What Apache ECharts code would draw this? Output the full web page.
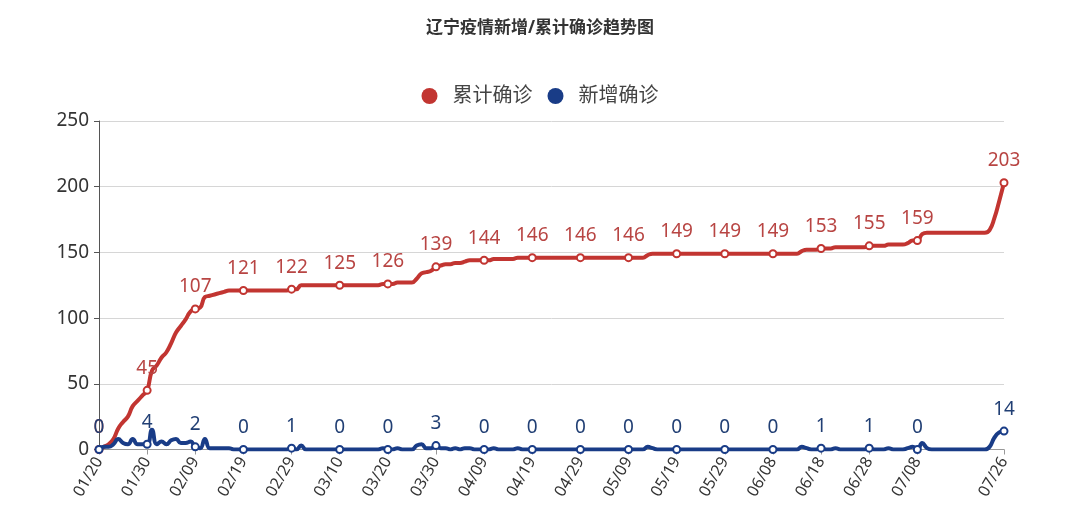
<!DOCTYPE html>
<html>
<head>
<meta charset="utf-8">
<script src="https://cdn.jsdelivr.net/npm/echarts@6/dist/echarts.min.js"></script>
<style>
html,body{margin:0;padding:0;background:#fff;}
#chart{width:1080px;height:527px;}
</style>
</head>
<body>
<div id="chart"></div>
<script>
// Daily categories 01/20 .. 07/26 (2020)
var startDate = '2020-01-20';
var endDate = '2020-07-26';
var yTicks = [0, 50, 100, 150, 200, 250];
var seriesNames = ['累计确诊', '新增确诊'];

// 累计确诊 (cumulative), one value per day
var cumulative = [
  0,2,4,8,16,21,25,33,37,41,
  45,60,64,70,74,81,89,94,99,105,
  107,108,116,117,118,119,120,121,121,121,
  121,121,121,121,121,121,121,121,121,121,
  122,122,125,125,125,125,125,125,125,125,
  125,125,125,125,125,125,125,125,125,126,
  126,126,127,127,127,127,130,134,135,136,
  139,140,141,141,142,142,143,144,144,144,
  144,144,145,145,145,145,145,146,146,146,
  146,146,146,146,146,146,146,146,146,146,
  146,146,146,146,146,146,146,146,146,146,
  146,146,146,146,148,149,149,149,149,149,
  149,149,149,149,149,149,149,149,149,149,
  149,149,149,149,149,149,149,149,149,149,
  149,149,149,149,149,149,151,152,152,152,
  153,153,153,154,154,154,154,154,154,154,
  155,155,155,155,156,156,156,156,157,159,
  159,164,165,165,165,165,165,165,165,165,
  165,165,165,165,165,167,176,189,203
];

// 新增确诊 (daily new), one value per day
var newCases = [
  0,2,2,4,8,5,4,8,4,4,
  4,15,4,6,4,7,8,5,5,6,
  2,1,8,1,1,1,1,1,0,0,
  0,0,0,0,0,0,0,0,0,0,
  1,0,3,0,0,0,0,0,0,0,
  0,0,0,0,0,0,0,0,0,1,
  0,0,1,0,0,0,3,4,1,1,
  3,1,1,0,1,0,1,1,0,0,
  0,0,1,0,0,0,0,1,0,0,
  0,0,0,0,0,0,0,0,0,0,
  0,0,0,0,0,0,0,0,0,0,
  0,0,0,0,2,1,0,0,0,0,
  0,0,0,0,0,0,0,0,0,0,
  0,0,0,0,0,0,0,0,0,0,
  0,0,0,0,0,0,2,1,0,0,
  1,0,0,1,0,0,0,0,0,0,
  1,0,0,0,1,0,0,0,1,2,
  0,5,1,0,0,0,0,0,0,0,
  0,0,0,0,0,2,9,13,14
];

function buildDates(s, e) {
  var out = [];
  var d = new Date(s + 'T00:00:00Z');
  var end = new Date(e + 'T00:00:00Z');
  while (d <= end) {
    var m = d.getUTCMonth() + 1, day = d.getUTCDate();
    out.push((m < 10 ? '0' : '') + m + '/' + (day < 10 ? '0' : '') + day);
    d.setUTCDate(d.getUTCDate() + 1);
  }
  return out;
}
var dates = buildDates(startDate, endDate);
var lastIdx = dates.length - 1;
function isMarked(i) {
  return (i % 10 === 0 && i <= lastIdx - 18) || i === lastIdx;
}

var RED = '#c23531';
var BLUE = '#193c87';
var FONT = "'Noto Sans', 'Noto Sans CJK SC', sans-serif";

function buildSeriesData(arr) {
  return arr.map(function (v, i) {
    if (isMarked(i)) {
      return { value: v, symbol: 'emptyCircle', symbolSize: 7, label: { show: true } };
    }
    return { value: v, symbol: 'none' };
  });
}

var chart = echarts.init(document.getElementById('chart'));
chart.setOption({
  backgroundColor: '#fff',
  animation: false,
  title: {
    text: '辽宁疫情新增/累计确诊趋势图',
    left: 'center',
    top: 15,
    textStyle: { fontSize: 17, fontWeight: 'bold', color: '#333', fontFamily: FONT }
  },
  legend: {
    data: seriesNames,
    top: 81,
    left: 'center',
    icon: 'circle',
    itemWidth: 16,
    itemHeight: 16,
    itemGap: 15,
    textStyle: { fontSize: 20, color: '#444', fontFamily: FONT, padding: [0, 0, 0, 10] }
  },
  grid: { left: 99, right: 76, top: 121, bottom: 77.5, containLabel: false },
  xAxis: {
    type: 'category',
    data: dates,
    boundaryGap: false,
    axisLine: { lineStyle: { color: '#999', width: 1 } },
    axisTick: { show: true, interval: function (i) { return isMarked(i); }, length: 5, lineStyle: { color: '#999' } },
    axisLabel: {
      interval: function (i) { return isMarked(i); },
      rotate: 60,
      fontSize: 16,
      color: '#333',
      margin: 9,
      fontFamily: FONT
    },
    splitLine: { show: false }
  },
  yAxis: {
    type: 'value',
    min: yTicks[0],
    max: yTicks[yTicks.length - 1],
    interval: yTicks[1] - yTicks[0],
    axisLine: { show: true, lineStyle: { color: '#555', width: 1 } },
    axisTick: { show: true, length: 5, lineStyle: { color: '#555' } },
    axisLabel: { fontSize: 19, color: '#333', margin: 10, fontFamily: FONT },
    splitLine: { show: true, lineStyle: { color: '#d6d6d6', width: 1 } }
  },
  series: [
    {
      name: seriesNames[0],
      type: 'line',
      smooth: true,
      data: buildSeriesData(cumulative),
      showAllSymbol: true,
      color: RED,
      lineStyle: { width: 4, color: RED },
      itemStyle: { color: RED, borderWidth: 1.5 },
      label: { position: 'top', distance: 8, fontSize: 19, color: '#b84543', fontFamily: FONT },
      z: 3
    },
    {
      name: seriesNames[1],
      type: 'line',
      smooth: true,
      data: buildSeriesData(newCases),
      showAllSymbol: true,
      color: BLUE,
      lineStyle: { width: 4, color: BLUE },
      itemStyle: { color: BLUE, borderWidth: 1.5 },
      label: { position: 'top', distance: 8, fontSize: 19, color: '#213f74', fontFamily: FONT },
      z: 4
    }
  ]
});
</script>
</body>
</html>
